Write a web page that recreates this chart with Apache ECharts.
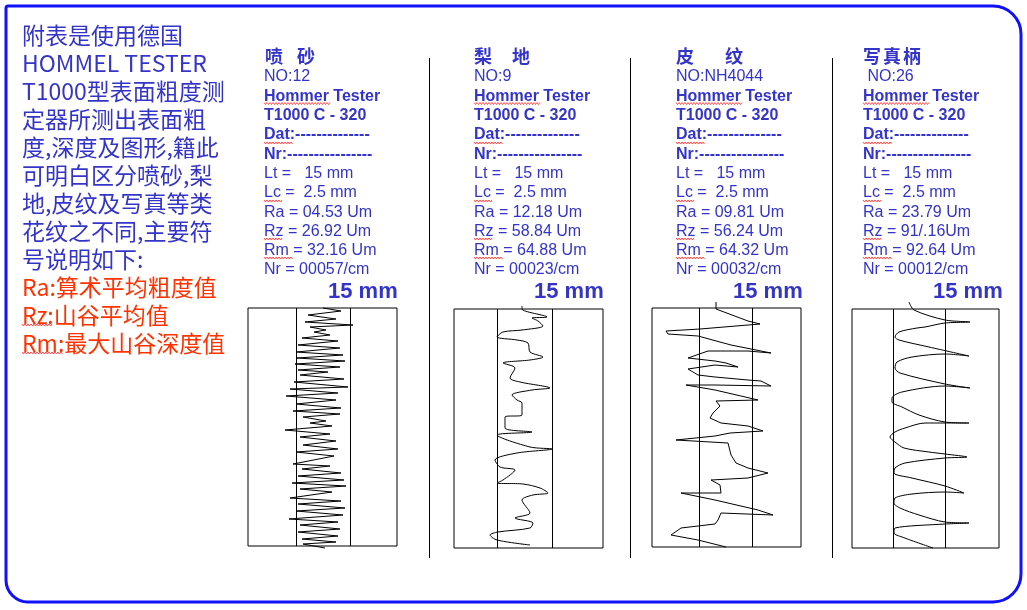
<!DOCTYPE html>
<html><head><meta charset="utf-8">
<script src="https://cdn.jsdelivr.net/npm/echarts@6/dist/echarts.min.js"></script>
<style>html,body{margin:0;padding:0;background:#fff}#c{width:1027px;height:610px}</style>
</head><body><div id="c"></div>
<script>
// ---------- text content ----------
const introLines = ['附表是使用德国','HOMMEL TESTER','T1000型表面粗度测','定器所测出表面粗','度,深度及图形,籍此','可明白区分喷砂,梨','地,皮纹及写真等类','花纹之不同,主要符','号说明如下:'];
const legendLines = ['Ra:算术平均粗度值','Rz:山谷平均值','Rm:最大山谷深度值'];
const sampleTitles = [['喷','砂'],['梨','地'],['皮','纹'],['写','真','柄']];
const sampleNo = ['NO:12','NO:9','NO:NH4044',' NO:26'];
const instrumentLine = 'Hommer Tester';
const modelLine = 'T1000 C - 320';
const datLine = 'Dat:--------------';
const nrHeadLine = 'Nr:----------------';
const ltLine = 'Lt =   15 mm';
const lcLine = 'Lc =  2.5 mm';
const raValues = ['04.53 Um','12.18 Um','09.81 Um','23.79 Um'];
const rzValues = ['26.92 Um','58.84 Um','56.24 Um','91/.16Um'];
const rmValues = ['32.16 Um','64.88 Um','64.32 Um','92.64 Um'];
const nrValues = ['00057/cm','00023/cm','00032/cm','00012/cm'];
const scanLength = '15 mm';

// ---------- profile traces: [deviation, position] in box units ----------
const profile1 = [[75,0],[93,3],[60,7],[88,11],[57,14],[105,17],[62,19],[78,22],[66,24],[82,27],[54,30],[90,33],[50,37],[92,40],[48,44],[95,47],[49,50],[97,53],[47,56],[92,59],[50,62],[80,64],[52,67],[96,71],[46,74],[100,79],[42,81],[90,85],[38,88],[88,92],[48,96],[93,100],[45,103],[92,106],[55,109],[78,113],[62,115],[84,118],[37,122],[82,126],[52,129],[88,133],[55,137],[90,141],[48,144],[86,148],[45,156],[82,158],[54,161],[93,165],[50,168],[96,172],[44,175],[98,178],[52,181],[84,184],[42,190],[93,193],[50,196],[97,200],[48,203],[95,207],[41,211],[90,214],[52,217],[92,221],[50,224],[90,228],[54,231],[88,234],[55,236],[77,240]];
const profile2 = [[68,-3],[68,0],[93,8],[78,9],[84,12],[89,17],[68,21],[49,23],[43,28],[63,31],[74,34],[76,43],[89,48],[76,51],[49,54],[61,59],[56,69],[66,73],[96,79],[78,81],[58,86],[63,91],[68,94],[68,106],[51,108],[51,119],[78,123],[43,126],[76,138],[98,140],[63,144],[41,151],[46,158],[61,161],[49,171],[43,174],[69,175],[86,179],[94,184],[79,186],[68,191],[76,204],[61,209],[79,214],[76,219],[44,223],[36,226],[43,231],[76,236]];
const profile3 = [[64,-6],[64,1],[96,13],[108,16],[96,17],[48,21],[14,23],[16,26],[46,28],[79,37],[119,45],[96,43],[56,43],[36,50],[63,53],[74,55],[86,59],[63,57],[36,61],[46,67],[63,69],[96,72],[109,73],[119,78],[63,77],[34,77],[63,82],[89,88],[106,92],[64,93],[68,98],[61,105],[58,110],[69,115],[96,118],[111,123],[78,125],[63,128],[24,132],[76,135],[79,147],[84,155],[96,160],[116,165],[96,170],[59,172],[68,177],[69,185],[29,185],[63,192],[106,202],[121,207],[69,205],[66,212],[63,216],[29,220],[19,227],[46,232],[74,239]];
const profile4 = [[57,-7],[62,1],[93,11],[118,13],[93,14],[73,18],[65,19],[47,23],[43,28],[47,31],[77,38],[117,47],[93,45],[60,48],[45,53],[43,59],[48,64],[93,75],[118,79],[93,77],[50,83],[40,89],[40,93],[50,98],[67,106],[93,113],[117,114],[93,114],[73,114],[53,119],[43,123],[38,128],[43,133],[52,139],[77,143],[93,145],[115,148],[93,149],[53,154],[43,159],[42,164],[60,169],[93,177],[112,184],[93,183],[60,185],[43,189],[42,194],[48,199],[67,206],[93,213],[117,214],[93,215],[43,219],[42,224],[50,228],[81,239]];
const profiles = [profile1, profile2, profile3, profile4];
const profileSmooth = [0, 0.3, 0, 0.3];
// reference (band) lines in each box, same units
const bandLines = [[48,102],[43,98],[47,100],[41,93]];

// ---------- layout ----------
const boxes = [
  {left:248, top:308, w:149, h:238},
  {left:454, top:309, w:149, h:239},
  {left:652, top:308, w:149, h:239},
  {left:852, top:309, w:147, h:239}
];
const colX = [264, 474, 676, 863];
const titleCharX = [[265,297],[474,512],[676,725],[863,883,903]];
const scanX = [328, 534, 733, 933];
const separatorsX = [429.5, 630.5, 832.5];

const BLUE = '#3434c8';
const RED = '#ff3300';
const SANS = "'Liberation Sans', Arial, sans-serif";
const CJK = "'Noto Sans CJK SC', sans-serif";

function txt(str, x, y, font, fill) {
  return {type:'text', x:x, y:y, silent:true, z:10,
    style:{text:str, font:font, fill:fill, align:'left', verticalAlign:'middle'}};
}
function wavy(x0, x1, y) {
  const pts = [];
  let k = 0;
  for (let x = x0; x <= x1; x += 1.5, k++) pts.push([x, y + (k % 2 ? 1 : -1)]);
  return {type:'polyline', silent:true, z:11, shape:{points:pts}, style:{stroke:'#ff2020', lineWidth:0.8, fill:null}};
}

const graphics = [];
graphics.push({type:'rect', silent:true, z:1, shape:{x:6, y:6, width:1015, height:596, r:[2,28,28,22]},
  style:{fill:'none', stroke:'#1010ff', lineWidth:3}});
separatorsX.forEach(x => graphics.push({type:'line', silent:true, z:2,
  shape:{x1:x, y1:58, x2:x, y2:558}, style:{stroke:'#000', lineWidth:1}}));

const introFont = '23px ' + CJK;
introLines.forEach((s, i) => graphics.push(txt(s, 22, 35 + i * 28, introFont, BLUE)));
legendLines.forEach((s, i) => graphics.push(txt(s, 22, 35 + (introLines.length + i) * 28, introFont, RED)));
graphics.push(wavy(22, 52, 325));
graphics.push(wavy(22, 63, 353));

const rowY0 = 77, rowStep = 19.3;
for (let c = 0; c < 4; c++) {
  const x = colX[c];
  sampleTitles[c].forEach((ch, j) => graphics.push(txt(ch, titleCharX[c][j], 56, 'bold 18px ' + CJK, BLUE)));
  const rows = [
    [sampleNo[c], false],
    [instrumentLine, true],
    [modelLine, true],
    [datLine, true],
    [nrHeadLine, true],
    [ltLine, false],
    [lcLine, false],
    ['Ra = ' + raValues[c], false],
    ['Rz = ' + rzValues[c], false],
    ['Rm = ' + rmValues[c], false],
    ['Nr = ' + nrValues[c], false]
  ];
  rows.forEach((r, i) => graphics.push(txt(r[0], x, rowY0 + i * rowStep, (r[1] ? 'bold ' : '') + '16px ' + SANS, BLUE)));
  graphics.push(wavy(x, x + 66, 103.5));
  graphics.push(wavy(x, x + 29, 143));
  graphics.push(wavy(x, x + 19, 201));
  graphics.push(wavy(x, x + 19, 239));
  graphics.push(wavy(x, x + 29, 258));
  graphics.push(txt(scanLength, scanX[c], 292, 'bold 22px ' + SANS, BLUE));
}

const grids = [], xAxes = [], yAxes = [], series = [];
boxes.forEach((b, i) => {
  grids.push({left:b.left, top:b.top, width:b.w, height:b.h, show:true, borderColor:'#000', borderWidth:1, backgroundColor:'transparent'});
  xAxes.push({type:'value', gridIndex:i, min:0, max:b.w, show:false});
  yAxes.push({type:'value', gridIndex:i, min:0, max:b.h, inverse:true, show:false});
  series.push({
    type:'line', xAxisIndex:i, yAxisIndex:i, data:profiles[i], symbol:'none', showSymbol:false,
    smooth:profileSmooth[i], clip:false, silent:true, animation:false,
    lineStyle:{color:'#000', width:1},
    markLine:{silent:true, symbol:['none','none'], label:{show:false}, animation:false,
      lineStyle:{color:'#000', width:1, type:'solid'},
      data: bandLines[i].map(v => ({xAxis:v}))}
  });
});

const chart = echarts.init(document.getElementById('c'), null, {renderer:'canvas'});
chart.setOption({
  backgroundColor:'#fff',
  animation:false,
  grid:grids, xAxis:xAxes, yAxis:yAxes, series:series,
  graphic:{elements:graphics}
});
</script></body></html>
